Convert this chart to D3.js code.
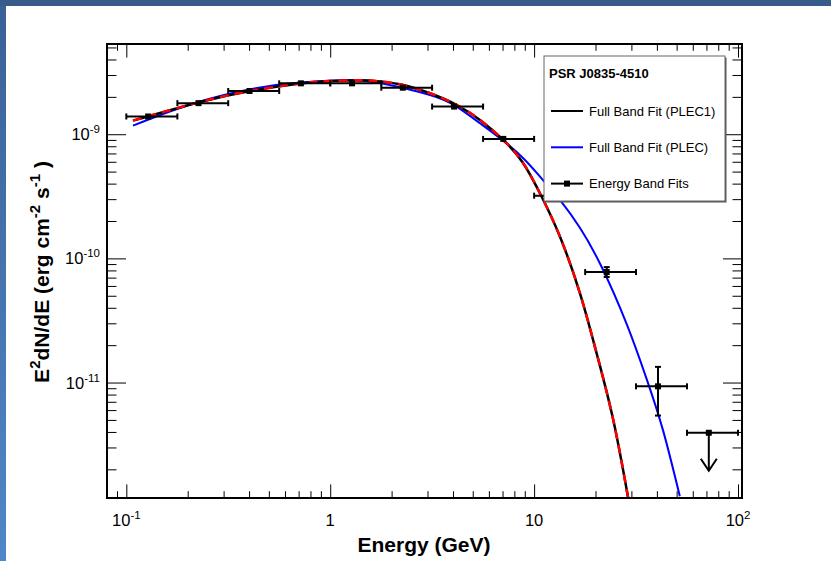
<!DOCTYPE html>
<html>
<head>
<meta charset="utf-8">
<script src="https://cdn.jsdelivr.net/npm/d3@7"></script>
<style>
body { margin: 0; background: #fff; }
text { font-family: "Liberation Sans", Arial, Helvetica, sans-serif; fill: #000; }
</style>
</head>
<body>
<div id="vis"></div>
<script>

// Energy band fits (GeV, erg cm^-2 s^-1)
var bandLo   = [0.1, 0.178, 0.316, 0.562, 1.0, 1.78, 3.16, 5.62, 10, 17.8, 31.6, 56.2];
var bandHi   = [0.178, 0.316, 0.562, 1.0, 1.78, 3.16, 5.62, 10, 17.8, 31.6, 56.2, 100];
var bandE    = [0.128, 0.226, 0.402, 0.718, 1.28, 2.27, 4.05, 7.06, 12.8, 22.7, 40.5, 71.9];
var bandFlux = [1.39e-9, 1.78e-9, 2.23e-9, 2.57e-9, 2.57e-9, 2.37e-9, 1.67e-9, 9.17e-10, 3.2e-10, 7.76e-11, 9.32e-12, 3.94e-12];
var bandFluxLo = [1.36e-9, 1.75e-9, 2.20e-9, 2.54e-9, 2.54e-9, 2.34e-9, 1.64e-9, 8.95e-10, 3.1e-10, 7.08e-11, 5.42e-12, null];
var bandFluxHi = [1.42e-9, 1.81e-9, 2.26e-9, 2.60e-9, 2.60e-9, 2.40e-9, 1.70e-9, 9.40e-10, 3.3e-10, 8.51e-11, 1.337e-11, null];
var upperLimit = [false, false, false, false, false, false, false, false, false, false, false, true];

// Full band fit, PLEC1
var plec1E    = [0.1078, 0.2254, 0.405, 0.712, 0.999, 1.401, 1.756, 2.276, 3.086, 4.172, 5.426, 7.058, 8.845, 10.88, 13.38, 16.77, 20.24, 24.42, 28.91];
var plec1Flux = [1.286e-9, 1.803e-9, 2.229e-9, 2.563e-9, 2.684e-9, 2.720e-9, 2.659e-9, 2.492e-9, 2.138e-9, 1.720e-9, 1.303e-9, 9.00e-10, 5.84e-10, 3.148e-10, 1.50e-10, 5.26e-11, 1.73e-11, 5.03e-12, 1.179e-12];

// Full band fit, PLEC
var plecE    = [0.1078, 0.2059, 0.405, 0.712, 1.252, 1.756, 3.086, 4.172, 5.426, 6.80, 8.845, 11.08, 13.38, 16.77, 21.42, 28.39, 35.58, 42.92, 51.82];
var plecFlux = [1.173e-9, 1.737e-9, 2.301e-9, 2.610e-9, 2.720e-9, 2.586e-9, 2.071e-9, 1.667e-9, 1.226e-9, 9.29e-10, 6.41e-10, 4.25e-10, 2.96e-10, 1.763e-10, 8.56e-11, 2.978e-11, 1.075e-11, 4.10e-12, 1.215e-12];

var xMajor = [0.1, 1, 10, 100];
var xLabels = [["10", "-1"], ["1", ""], ["10", ""], ["10", "2"]];
var yMajor = [1e-9, 1e-10, 1e-11];
var yLabels = [["10", "-9"], ["10", "-10"], ["10", "-11"]];

var legendTitle = "PSR J0835-4510";
var legendNames = ["Full Band Fit (PLEC1)", "Full Band Fit (PLEC)", "Energy Band Fits"];

var width = 831;
var height = 561;
var margin = { top: 44, right: 89, bottom: 63, left: 107 };
var w = width - margin.left - margin.right;
var h = height - margin.top - margin.bottom;

var svg = d3.select("#vis")
            .append("svg")
            .attr("width", width)
            .attr("height", height);

// window background (blue frame at top/left)
var grad = svg.append("defs").append("linearGradient")
    .attr("id", "side").attr("x1", 0).attr("y1", 0).attr("x2", 0).attr("y2", 1);
grad.append("stop").attr("offset", "0%").attr("stop-color", "#3a6196");
grad.append("stop").attr("offset", "100%").attr("stop-color", "#5087c8");

svg.append("rect").attr("width", width).attr("height", height).attr("fill", "#fff");
svg.append("rect").attr("width", 6).attr("height", height).attr("fill", "url(#side)");
svg.append("rect").attr("width", width).attr("height", 6).attr("fill", "#375c8a");

svg.select("defs").append("clipPath").attr("id", "clip")
    .append("rect").attr("width", w).attr("height", h);

var g = svg.append("g").attr("transform", "translate(" + margin.left + "," + margin.top + ")");

var x = d3.scaleLog().domain([0.0804, 104.6]).range([0, w]);
var y = d3.scaleLog().domain([1.175e-12, 5.33e-9]).range([h, 0]);

// minor ticks 2..9 inside each decade
function minorTicks(scale) {
    var d = scale.domain(), out = [];
    var lo = Math.floor(Math.log10(d[0])), hi = Math.ceil(Math.log10(d[1]));
    for (var e = lo; e < hi; e++) {
        for (var k = 2; k <= 9; k++) {
            var v = k * Math.pow(10, e);
            if (v >= d[0] && v <= d[1]) out.push(v);
        }
    }
    return out;
}

var XMAJ = 13.6, XMIN = 6.8, YMAJ = 19, YMIN = 9.5;

function drawAxis(axisFn, scale, vals, len, tr) {
    g.append("g")
        .attr("transform", tr)
        .call(axisFn(scale).tickValues(vals).tickSizeInner(len).tickSizeOuter(0).tickFormat(""))
        .call(function(a) { a.select(".domain").remove(); a.selectAll("line").attr("stroke", "#000"); });
}

drawAxis(d3.axisBottom, x, xMajor, -XMAJ, "translate(0," + h + ")");
drawAxis(d3.axisBottom, x, minorTicks(x), -XMIN, "translate(0," + h + ")");
drawAxis(d3.axisTop, x, xMajor, -XMAJ, "translate(0,0)");
drawAxis(d3.axisTop, x, minorTicks(x), -XMIN, "translate(0,0)");
drawAxis(d3.axisLeft, y, yMajor, -YMAJ, "translate(0,0)");
drawAxis(d3.axisLeft, y, minorTicks(y), -YMIN, "translate(0,0)");
drawAxis(d3.axisRight, y, yMajor, -YMAJ, "translate(" + w + ",0)");
drawAxis(d3.axisRight, y, minorTicks(y), -YMIN, "translate(" + w + ",0)");

// tick labels with exponents
xMajor.forEach(function(v, i) {
    var t = g.append("text")
        .attr("x", x(v)).attr("y", h + 28)
        .attr("text-anchor", "middle")
        .style("font-size", "16.5px");
    t.append("tspan").text(xLabels[i][0]);
    if (xLabels[i][1]) t.append("tspan").attr("dy", -7).style("font-size", "11.5px").text(xLabels[i][1]);
});

yMajor.forEach(function(v, i) {
    var t = g.append("text")
        .attr("x", -7).attr("y", y(v) + 6)
        .attr("text-anchor", "end")
        .style("font-size", "16.5px");
    t.append("tspan").text(yLabels[i][0]);
    t.append("tspan").attr("dy", -7).style("font-size", "11.5px").text(yLabels[i][1]);
});

// axis titles
svg.append("text")
    .attr("x", 424).attr("y", 552)
    .attr("text-anchor", "middle")
    .style("font-size", "21px").style("font-weight", "bold")
    .text("Energy (GeV)");

var yt = svg.append("text")
    .attr("transform", "translate(49,272) rotate(-90)")
    .attr("text-anchor", "middle")
    .style("font-size", "21px").style("font-weight", "bold");
yt.append("tspan").text("E");
yt.append("tspan").attr("dy", -9).style("font-size", "15px").text("2");
yt.append("tspan").attr("dy", 9).text("dN/dE (erg cm");
yt.append("tspan").attr("dy", -9).style("font-size", "15px").text("-2");
yt.append("tspan").attr("dy", 9).text(" s");
yt.append("tspan").attr("dy", -9).style("font-size", "15px").text("-1");
yt.append("tspan").attr("dy", 9).text(" )");

// fit curves
var line = d3.line()
    .x(function(d) { return x(d[0]); })
    .y(function(d) { return y(d[1]); })
    .curve(d3.curveNatural);

var curves = g.append("g").attr("clip-path", "url(#clip)");
var plec1 = d3.zip(plec1E, plec1Flux);
var plec = d3.zip(plecE, plecFlux);

curves.append("path").datum(plec).attr("d", line)
    .attr("fill", "none").attr("stroke", "#0000ff").attr("stroke-width", 2);
curves.append("path").datum(plec1).attr("d", line)
    .attr("fill", "none").attr("stroke", "#000").attr("stroke-width", 2.5);
curves.append("path").datum(plec1).attr("d", line)
    .attr("fill", "none").attr("stroke", "#ff0000").attr("stroke-width", 2.5)
    .attr("stroke-dasharray", "9,6");

// energy band points with error bars
var CAP = 3;
var pts = g.append("g").attr("stroke", "#000").attr("stroke-width", 2);
bandE.forEach(function(e, i) {
    var cx = x(e), cy = y(bandFlux[i]);
    var x0 = x(bandLo[i]), x1 = x(bandHi[i]);
    pts.append("line").attr("x1", x0).attr("x2", x1).attr("y1", cy).attr("y2", cy);
    pts.append("line").attr("x1", x0).attr("x2", x0).attr("y1", cy - CAP).attr("y2", cy + CAP);
    pts.append("line").attr("x1", x1).attr("x2", x1).attr("y1", cy - CAP).attr("y2", cy + CAP);
    if (upperLimit[i]) {
        pts.append("line").attr("x1", cx).attr("x2", cx).attr("y1", cy).attr("y2", cy + 38);
        pts.append("polyline")
            .attr("points", [[cx - 8, cy + 26], [cx, cy + 38], [cx + 8, cy + 26]].join(" "))
            .attr("fill", "none");
    } else {
        var ylo = y(bandFluxLo[i]), yhi = y(bandFluxHi[i]);
        pts.append("line").attr("x1", cx).attr("x2", cx).attr("y1", yhi).attr("y2", ylo);
        if (ylo - yhi > 6) {
            pts.append("line").attr("x1", cx - CAP).attr("x2", cx + CAP).attr("y1", yhi).attr("y2", yhi);
            pts.append("line").attr("x1", cx - CAP).attr("x2", cx + CAP).attr("y1", ylo).attr("y2", ylo);
        }
    }
    pts.append("rect").attr("x", cx - 3).attr("y", cy - 3).attr("width", 6).attr("height", 6)
        .attr("fill", "#000").attr("stroke", "none");
});

// frame
g.append("rect").attr("width", w).attr("height", h)
    .attr("fill", "none").attr("stroke", "#000").attr("stroke-width", 2);

// legend
var lg = svg.append("g").attr("transform", "translate(544,56)");
var LW = 181, LH = 145;
lg.append("rect").attr("x", 1.5).attr("y", 1.5).attr("width", LW).attr("height", LH).attr("fill", "#555");
lg.append("rect").attr("width", LW).attr("height", LH).attr("fill", "#fff")
    .attr("stroke", "#666").attr("stroke-width", 1);
lg.append("text").attr("x", 5).attr("y", 22)
    .style("font-size", "13px").style("font-weight", "bold").text(legendTitle);

var legendColors = ["#000", "#0000ff", "#000"];
legendNames.forEach(function(name, i) {
    var ly = 55 + i * 36.3;
    lg.append("line").attr("x1", 7).attr("x2", 39).attr("y1", ly).attr("y2", ly)
        .attr("stroke", legendColors[i]).attr("stroke-width", 2);
    if (i == 2) {
        lg.append("rect").attr("x", 20).attr("y", ly - 3).attr("width", 6).attr("height", 6).attr("fill", "#000");
    }
    lg.append("text").attr("x", 45).attr("y", ly + 4.5)
        .style("font-size", "13px").text(name);
});

</script>
</body>
</html>
